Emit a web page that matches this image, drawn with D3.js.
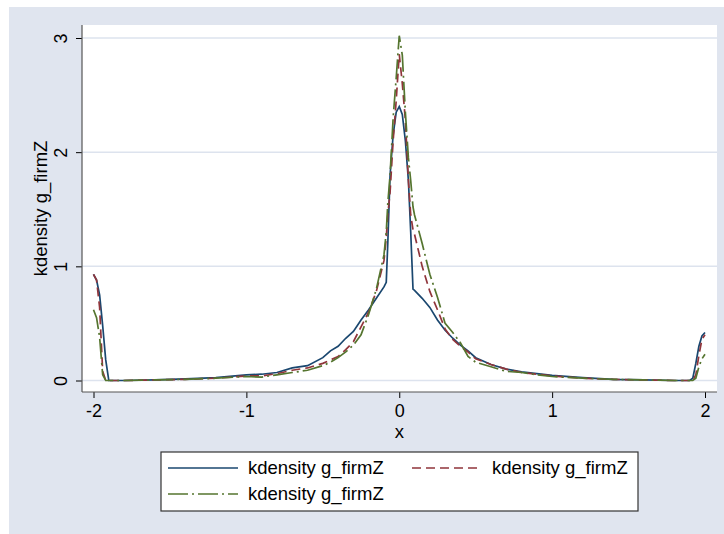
<!DOCTYPE html>
<html>
<head>
<meta charset="utf-8">
<script src="https://cdn.jsdelivr.net/npm/d3@7"></script>
<style>
  body { margin: 0; background: #fff; }
  svg text { font-family: "Liberation Sans", Arial, Helvetica, sans-serif; fill: #000; }
</style>
</head>
<body>
<script>
// evaluation points of the three kernel density estimates
var xs = [-2, -1.98, -1.96, -1.94, -1.92, -1.90, -1.8, -1.6, -1.4, -1.2, -1.0, -0.9, -0.8, -0.7,
  -0.6, -0.5, -0.45, -0.4, -0.35, -0.3, -0.25, -0.2, -0.15, -0.1, -0.085, -0.075, -0.06, -0.04,
  -0.02, 0, 0.02, 0.04, 0.06, 0.075, 0.09, 0.1, 0.15, 0.2, 0.25, 0.3, 0.35, 0.4, 0.45, 0.5, 0.6,
  0.7, 0.8, 0.9, 1.0, 1.2, 1.4, 1.6, 1.8, 1.9, 1.92, 1.94, 1.96, 1.98, 2.0];

var blue_y = [0.93, 0.88, 0.75, 0.48, 0.18, 0.0, 0.0, 0.005, 0.015, 0.025, 0.05, 0.055, 0.07, 0.11,
  0.13, 0.20, 0.26, 0.30, 0.37, 0.43, 0.53, 0.62, 0.72, 0.82, 0.86, 1.2, 1.8, 2.15,
  2.35, 2.40, 2.33, 2.1, 1.75, 1.3, 0.80, 0.79, 0.72, 0.64, 0.53, 0.44, 0.37, 0.31, 0.26, 0.20, 0.14,
  0.10, 0.075, 0.06, 0.045, 0.025, 0.01, 0.005, 0.0, 0.0, 0.02, 0.15, 0.30, 0.39, 0.42];

var red_y = [0.93, 0.88, 0.64, 0.08, 0.0, 0.0, 0.0, 0.005, 0.01, 0.02, 0.04, 0.04, 0.06, 0.09,
  0.11, 0.15, 0.18, 0.21, 0.27, 0.34, 0.47, 0.60, 0.78, 1.05, 1.25, 1.45, 1.65, 2.10,
  2.45, 2.86, 2.60, 2.28, 1.75, 1.45, 1.32, 1.28, 1.00, 0.78, 0.62, 0.45, 0.36, 0.30, 0.25, 0.19, 0.14,
  0.10, 0.07, 0.055, 0.04, 0.02, 0.01, 0.005, 0.0, 0.0, 0.0, 0.05, 0.22, 0.36, 0.40];

var green_y = [0.62, 0.55, 0.38, 0.05, 0.0, 0.0, 0.0, 0.005, 0.01, 0.02, 0.035, 0.03, 0.05, 0.07,
  0.09, 0.13, 0.16, 0.20, 0.25, 0.31, 0.40, 0.58, 0.80, 1.10, 1.30, 1.55, 1.80, 2.30,
  2.65, 3.02, 2.85, 2.35, 1.95, 1.75, 1.52, 1.45, 1.20, 0.93, 0.73, 0.50, 0.42, 0.33, 0.21, 0.16, 0.12,
  0.08, 0.07, 0.05, 0.035, 0.02, 0.01, 0.005, 0.0, 0.0, 0.0, 0.02, 0.12, 0.19, 0.23];

var x_ticks = [-2, -1, 0, 1, 2];
var y_ticks = [0, 1, 2, 3];
var series_names = ["kdensity g_firmZ", "kdensity g_firmZ", "kdensity g_firmZ"];

var w = 724;
var h = 534;

var svg = d3.select("body")
  .append("svg")
  .attr("width", w)
  .attr("height", h);

// graph region
svg.append("rect")
  .attr("x", 9).attr("y", 7)
  .attr("width", w - 9).attr("height", h - 7)
  .attr("fill", "#e0e5ef");

// plot region
var pl = 82, pr = 717, pt = 25, pb = 392;
svg.append("rect")
  .attr("x", pl).attr("y", pt)
  .attr("width", pr - pl).attr("height", pb - pt)
  .attr("fill", "#fff");

var x = d3.scaleLinear().domain([-2, 2]).range([93.5, 705]);
var y = d3.scaleLinear().domain([0, 3]).range([380.5, 38]);

// gridlines
svg.append("g")
  .selectAll("line")
  .data(y_ticks)
  .enter()
  .append("line")
  .attr("x1", pl).attr("x2", pr)
  .attr("y1", function(d) { return y(d); })
  .attr("y2", function(d) { return y(d); })
  .attr("stroke", "#dde3ee")
  .attr("stroke-width", 1.5);

// axes
var x_axis = d3.axisBottom(x)
  .tickValues(x_ticks)
  .tickFormat(function(d) { return String(d); })
  .tickSize(6).tickSizeOuter(0).tickPadding(6);
var gx = svg.append("g")
  .attr("transform", "translate(0," + pb + ")")
  .call(x_axis);
gx.select(".domain").remove();
gx.selectAll(".tick line").attr("stroke", "#000");
gx.selectAll(".tick text")
  .style("font-size", "18px")
  .attr("fill", "#000");

var y_axis = d3.axisLeft(y)
  .tickValues(y_ticks)
  .tickFormat(function(d) { return String(d); })
  .tickSize(6).tickSizeOuter(0);
var gy = svg.append("g")
  .attr("transform", "translate(" + pl + ",0)")
  .call(y_axis);
gy.select(".domain").remove();
gy.selectAll(".tick line").attr("stroke", "#000");
gy.selectAll(".tick text")
  .attr("x", null).attr("dy", null)
  .attr("text-anchor", "middle")
  .attr("transform", "translate(-15,0) rotate(-90)")
  .style("font-size", "18px")
  .attr("fill", "#000");

svg.append("line")
  .attr("x1", pl).attr("x2", pr)
  .attr("y1", pb).attr("y2", pb)
  .attr("stroke", "#555").attr("stroke-width", 1.2);
svg.append("line")
  .attr("x1", pl).attr("x2", pl)
  .attr("y1", pt).attr("y2", pb)
  .attr("stroke", "#555").attr("stroke-width", 1.2);

// axis titles
svg.append("text")
  .attr("x", x(0)).attr("y", 438)
  .attr("text-anchor", "middle")
  .style("font-size", "18.5px")
  .text("x");

svg.append("text")
  .attr("transform", "translate(47," + ((pt + pb) / 2) + ") rotate(-90)")
  .attr("text-anchor", "middle")
  .style("font-size", "18.5px")
  .text("kdensity g_firmZ");

// curves
var styles = [
  { color: "#1a476f", dash: null },
  { color: "#90353b", dash: "9,5" },
  { color: "#55752f", dash: "20,4,2,4" }
];
var all_y = [blue_y, red_y, green_y];

var line = d3.line()
  .x(function(d) { return x(d[0]); })
  .y(function(d) { return y(d[1]); });

all_y.forEach(function(ys, i) {
  var pts = xs.map(function(v, j) { return [v, ys[j]]; });
  svg.append("path")
    .datum(pts)
    .attr("d", line)
    .attr("fill", "none")
    .attr("stroke", styles[i].color)
    .attr("stroke-width", 1.7)
    .attr("stroke-dasharray", styles[i].dash);
});

// legend
var legend = svg.append("g");
legend.append("rect")
  .attr("x", 161).attr("y", 452)
  .attr("width", 477).attr("height", 59)
  .attr("fill", "#fff")
  .attr("stroke", "#333")
  .attr("stroke-width", 1.2);

var legend_pos = [
  { lx: 168, ty: 468 },
  { lx: 412, ty: 468 },
  { lx: 168, ty: 494 }
];
series_names.forEach(function(name, i) {
  var p = legend_pos[i];
  legend.append("line")
    .attr("x1", p.lx).attr("x2", p.lx + 70)
    .attr("y1", p.ty).attr("y2", p.ty)
    .attr("stroke", styles[i].color)
    .attr("stroke-width", 1.7)
    .attr("stroke-dasharray", styles[i].dash);
  legend.append("text")
    .attr("x", p.lx + 80).attr("y", p.ty)
    .attr("dy", "0.35em")
    .style("font-size", "18.5px")
    .text(name);
});
</script>
</body>
</html>
